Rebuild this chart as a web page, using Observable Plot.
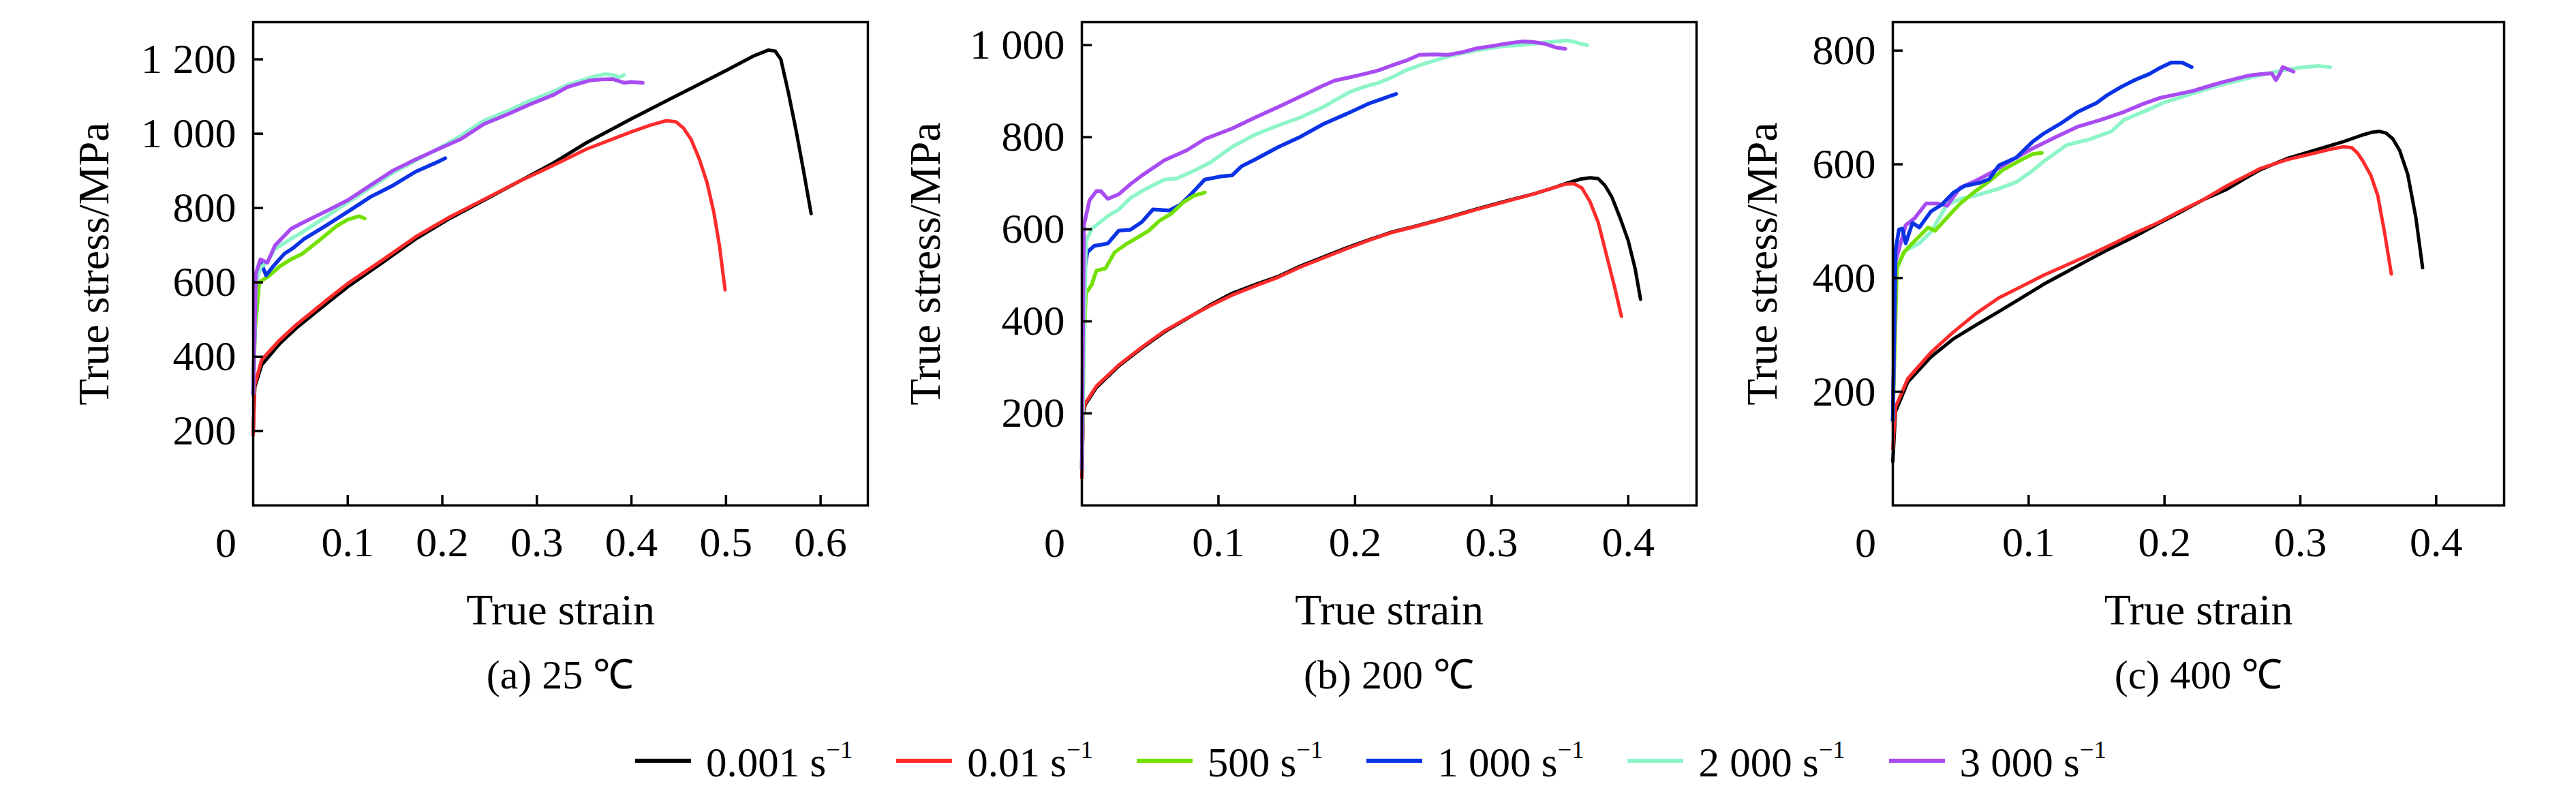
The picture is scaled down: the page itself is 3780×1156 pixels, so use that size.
<!DOCTYPE html>
<html><head><meta charset="utf-8">
<script src="https://cdn.jsdelivr.net/npm/d3@7"></script>
<script src="https://cdn.jsdelivr.net/npm/@observablehq/plot@0.6"></script>
<style>
body{margin:0;background:#fff;}
#wrap{position:relative;width:3780px;height:1156px;background:#fff;font-family:"Liberation Serif","Times New Roman",serif;}
.panel{position:absolute;top:0;}
.cap{position:absolute;font-size:60px;line-height:1;text-align:center;white-space:nowrap;transform:translateX(-50%);}
#legend{position:absolute;left:932px;top:1082px;display:flex;align-items:center;font-size:61px;line-height:1;white-space:nowrap;}
.it{display:flex;align-items:center;margin-right:64px;}
.sw{width:82px;height:6px;margin-right:22px;}
sup{font-size:0.6em;vertical-align:0.75em;}
</style></head>
<body><div id="wrap"></div>
<script>
const keys = ["0.001", "0.01", "500", "1 000", "2 000", "3 000"];
const colors = ["#000000", "#ff2b2b", "#73e000", "#0a33e6", "#8ef5c8", "#a84cf2"];

// ---- (a) 25 ℃ : [true strain, true stress MPa]
const a_0001 = [[0,190],[0.0017,318],[0.009,378],[0.028,435],[0.046,478],[0.064,515],[0.082,552],[0.1,588],[0.136,652],[0.172,717],[0.208,772],[0.244,821],[0.28,870],[0.316,919],[0.352,975],[0.4,1040],[0.45,1105],[0.5,1170],[0.53,1210],[0.545,1225],[0.552,1222],[0.558,1200],[0.566,1110],[0.574,1010],[0.582,900],[0.59,785]];
const a_001 = [[0,190],[0.0017,325],[0.009,392],[0.028,445],[0.046,487],[0.064,524],[0.082,561],[0.1,597],[0.136,659],[0.172,723],[0.208,776],[0.244,823],[0.28,870],[0.316,913],[0.352,958],[0.4,1005],[0.42,1023],[0.437,1035],[0.447,1032],[0.455,1015],[0.463,985],[0.472,930],[0.48,868],[0.487,790],[0.493,700],[0.499,580]];
const a_500 = [[0,300],[0.002,472],[0.0065,601],[0.016,616],[0.028,643],[0.04,662],[0.052,677],[0.064,701],[0.076,726],[0.088,751],[0.1,769],[0.112,778],[0.118,772]];
const a_1000 = [[0,300],[0.003,607],[0.0077,656],[0.0137,619],[0.021,643],[0.033,677],[0.042,692],[0.054,717],[0.076,751],[0.1,790],[0.124,830],[0.148,861],[0.172,898],[0.196,925],[0.203,934]];
const a_2000 = [[0,300],[0.003,600],[0.0077,640],[0.015,655],[0.023,690],[0.04,717],[0.052,735],[0.076,775],[0.1,815],[0.124,855],[0.148,895],[0.172,928],[0.196,960],[0.22,995],[0.244,1035],[0.268,1060],[0.292,1088],[0.317,1113],[0.332,1131],[0.347,1143],[0.362,1155],[0.372,1160],[0.38,1158],[0.387,1152],[0.392,1158]];
const a_3000 = [[0,300],[0.003,625],[0.0077,662],[0.015,653],[0.023,699],[0.04,744],[0.052,760],[0.076,790],[0.1,821],[0.124,861],[0.148,901],[0.172,931],[0.196,959],[0.22,986],[0.244,1026],[0.268,1051],[0.292,1078],[0.318,1105],[0.332,1125],[0.345,1135],[0.356,1143],[0.368,1146],[0.38,1147],[0.392,1137],[0.4,1139],[0.412,1137]];

// ---- (b) 200 ℃
const b_0001 = [[0,60],[0.001,200],[0.0025,219],[0.0106,256],[0.027,303],[0.044,342],[0.0605,377],[0.077,406],[0.094,436],[0.11,461],[0.127,480],[0.144,498],[0.16,520],[0.177,540],[0.194,560],[0.21,577],[0.227,594],[0.243,606],[0.268,626],[0.289,644],[0.31,661],[0.331,677],[0.345,690],[0.356,701],[0.365,709],[0.372,712],[0.378,710],[0.383,695],[0.388,670],[0.394,625],[0.4,575],[0.405,515],[0.409,448]];
const b_001 = [[0,60],[0.001,205],[0.0025,222],[0.0106,259],[0.027,305],[0.044,344],[0.0605,379],[0.077,407],[0.094,434],[0.11,457],[0.127,477],[0.144,496],[0.16,518],[0.177,538],[0.194,558],[0.21,576],[0.227,593],[0.243,605],[0.268,625],[0.289,643],[0.31,660],[0.331,677],[0.345,690],[0.354,698],[0.36,699],[0.366,690],[0.372,660],[0.378,615],[0.384,545],[0.39,475],[0.395,411]];
const b_500 = [[0,80],[0.0015,357],[0.003,461],[0.0073,480],[0.0106,510],[0.0173,515],[0.024,550],[0.032,567],[0.0406,582],[0.049,597],[0.057,619],[0.0655,634],[0.074,658],[0.082,673],[0.09,680]];
const b_1000 = [[0,80],[0.0015,500],[0.004,550],[0.009,564],[0.019,569],[0.027,597],[0.0356,599],[0.044,616],[0.052,643],[0.064,641],[0.072,653],[0.0805,678],[0.09,708],[0.102,715],[0.11,717],[0.117,737],[0.127,752],[0.144,779],[0.16,801],[0.177,829],[0.194,851],[0.21,873],[0.23,894]];
const b_2000 = [[0,80],[0.003,574],[0.0073,601],[0.019,629],[0.027,643],[0.0356,668],[0.047,688],[0.0605,708],[0.069,710],[0.082,727],[0.094,745],[0.11,779],[0.127,806],[0.144,826],[0.16,843],[0.177,866],[0.185,880],[0.196,898],[0.206,909],[0.217,918],[0.227,930],[0.237,945],[0.247,956],[0.258,966],[0.268,975],[0.279,983],[0.289,989],[0.3,994],[0.31,998],[0.321,1000],[0.331,1003],[0.34,1006],[0.347,1008],[0.355,1010],[0.36,1008],[0.365,1003],[0.37,1000]];
const b_3000 = [[0,80],[0.0015,609],[0.0056,663],[0.0106,683],[0.0139,683],[0.019,666],[0.027,676],[0.0356,698],[0.044,717],[0.0605,750],[0.077,772],[0.09,796],[0.11,819],[0.127,843],[0.144,866],[0.164,894],[0.175,910],[0.185,923],[0.196,930],[0.206,937],[0.217,945],[0.227,956],[0.237,966],[0.247,979],[0.258,980],[0.268,979],[0.279,985],[0.289,993],[0.3,998],[0.31,1003],[0.322,1008],[0.33,1007],[0.339,1003],[0.347,995],[0.354,992]];

// ---- (c) 400 ℃
const c_0001 = [[0,77],[0.002,165],[0.011,217],[0.028,261],[0.0446,293],[0.061,317],[0.078,341],[0.0946,365],[0.111,389],[0.128,411],[0.145,433],[0.161,453],[0.178,473],[0.195,495],[0.211,515],[0.228,537],[0.245,555],[0.27,590],[0.29,610],[0.311,625],[0.332,640],[0.345,651],[0.352,656],[0.358,658],[0.363,655],[0.368,645],[0.373,625],[0.379,583],[0.385,507],[0.39,418]];
const c_001 = [[0,100],[0.002,173],[0.011,223],[0.028,269],[0.0446,305],[0.061,337],[0.078,365],[0.0946,385],[0.111,405],[0.128,423],[0.145,441],[0.161,459],[0.178,479],[0.195,497],[0.211,517],[0.228,537],[0.245,561],[0.27,592],[0.29,608],[0.311,620],[0.325,628],[0.332,631],[0.338,629],[0.342,620],[0.346,606],[0.352,580],[0.357,545],[0.362,480],[0.367,407]];
const c_500 = [[0,150],[0.003,417],[0.008,445],[0.016,465],[0.026,489],[0.031,483],[0.041,509],[0.0496,531],[0.061,553],[0.073,574],[0.081,590],[0.0946,608],[0.103,618],[0.1097,620]];
const c_1000 = [[0,150],[0.002,449],[0.0045,485],[0.007,487],[0.0095,461],[0.0145,497],[0.0195,489],[0.028,517],[0.036,529],[0.0446,550],[0.053,562],[0.0646,568],[0.071,574],[0.078,598],[0.091,612],[0.103,640],[0.111,654],[0.125,674],[0.136,692],[0.15,708],[0.158,722],[0.168,736],[0.178,748],[0.189,759],[0.197,770],[0.205,779],[0.213,779],[0.22,771]];
const c_2000 = [[0,150],[0.002,414],[0.0095,449],[0.0195,461],[0.028,481],[0.04,529],[0.0496,539],[0.061,545],[0.078,557],[0.091,569],[0.103,589],[0.111,605],[0.128,634],[0.145,644],[0.161,658],[0.17,678],[0.186,694],[0.201,710],[0.211,717],[0.221,725],[0.232,733],[0.242,740],[0.252,746],[0.262,752],[0.272,758],[0.283,763],[0.293,768],[0.303,771],[0.313,773],[0.322,771]];
const c_3000 = [[0,150],[0.002,429],[0.0095,493],[0.016,505],[0.0245,531],[0.033,531],[0.04,527],[0.0496,559],[0.061,571],[0.073,586],[0.086,605],[0.103,628],[0.12,648],[0.136,666],[0.153,678],[0.17,692],[0.184,706],[0.197,717],[0.209,723],[0.221,729],[0.232,737],[0.242,744],[0.252,750],[0.262,756],[0.272,759],[0.279,760],[0.282,748],[0.285,760],[0.287,771],[0.291,767],[0.295,763]];

// tick values
const xTicksA = [0.1, 0.2, 0.3, 0.4, 0.5, 0.6];
const xTicksBC = [0.1, 0.2, 0.3, 0.4];
const yTicksA = [200, 400, 600, 800, 1000, 1200];
const yTicksB = [200, 400, 600, 800, 1000];
const yTicksC = [200, 400, 600, 800];
const captions = ["(a) 25 ℃", "(b) 200 ℃", "(c) 400 ℃"];

const FONT = '"Liberation Serif","Times New Roman",serif';
const fmtY = d3.formatLocale({decimal: ".", thousands: " ", grouping: [3], currency: ["", ""]}).format(",d");

function panel({series, order, xmax, ymax, xticks, yticks, width, mLeft, mRight, yLabelDx}) {
  const H = 960, mTop = 32, mBottom = 219;
  const plotW = width - mLeft - mRight, plotH = H - mTop - mBottom;
  const tick = 15;
  return Plot.plot({
    width, height: H, marginLeft: mLeft, marginRight: mRight, marginTop: mTop, marginBottom: mBottom,
    x: {domain: [0, xmax]},
    y: {domain: [0, ymax]},
    style: {fontFamily: FONT, fontSize: "62px", background: "transparent", color: "#000"},
    marks: [
      ...order.map(i => Plot.line(series[i], {x: d => d[0], y: d => d[1], stroke: colors[i], strokeWidth: i < 2 ? 5 : 5.5, strokeLinejoin: "round", strokeLinecap: "round"})),
      Plot.ruleX(xticks, {x: d => d, y1: 0, y2: ymax * tick / plotH, stroke: "#000", strokeWidth: 3.5}),
      Plot.ruleY(yticks, {y: d => d, x1: 0, x2: xmax * tick / plotW, stroke: "#000", strokeWidth: 3.5}),
      Plot.frame({stroke: "#000", strokeWidth: 3.5}),
      Plot.axisX({ticks: xticks, tickSize: 0, tickPadding: 30, tickFormat: d3.format(".1f"), label: null, fontSize: 62}),
      Plot.axisY({ticks: yticks, tickSize: 0, tickPadding: 25, tickFormat: fmtY, label: null, fontSize: 62}),
      Plot.text(["0"], {x: 0, y: 0, text: d => d, dx: -40, dy: 56, fontSize: 62, lineAnchor: "middle"}),
      Plot.text(["True strain"], {frameAnchor: "bottom", text: d => d, dy: 174, lineAnchor: "bottom", textAnchor: "middle", fontSize: 64}),
      Plot.text(["True stress/MPa"], {frameAnchor: "left", text: d => d, dx: yLabelDx, rotate: -90, lineAnchor: "middle", textAnchor: "middle", fontSize: 64})
    ]
  });
}

const wrap = document.getElementById("wrap");
const specs = [
  {left: 0, series: [a_0001, a_001, a_500, a_1000, a_2000, a_3000], order: [0,1,2,3,4,5], xmax: 0.65, ymax: 1300, xticks: xTicksA, yticks: yTicksA, width: 1300, mLeft: 371, mRight: 27, yLabelDx: -233, cx: 822},
  {left: 1300, series: [b_0001, b_001, b_500, b_1000, b_2000, b_3000], order: [0,1,3,2,4,5], xmax: 0.45, ymax: 1050, xticks: xTicksBC, yticks: yTicksB, width: 1250, mLeft: 287, mRight: 61, yLabelDx: -229, cx: 2038},
  {left: 2550, series: [c_0001, c_001, c_500, c_1000, c_2000, c_3000], order: [0,1,4,2,5,3], xmax: 0.45, ymax: 850, xticks: xTicksBC, yticks: yTicksC, width: 1230, mLeft: 227, mRight: 106, yLabelDx: -191, cx: 3226}
];
specs.forEach((s, i) => {
  const svg = panel(s);
  const div = document.createElement("div");
  div.className = "panel";
  div.style.left = s.left + "px";
  div.appendChild(svg);
  wrap.appendChild(div);
  const cap = document.createElement("div");
  cap.className = "cap";
  cap.style.left = s.cx + "px";
  cap.style.top = "960px";
  cap.textContent = captions[i];
  wrap.appendChild(cap);
});

const leg = document.createElement("div");
leg.id = "legend";
keys.forEach((k, i) => {
  const it = document.createElement("div");
  it.className = "it";
  const sw = document.createElement("div");
  sw.className = "sw";
  sw.style.background = colors[i];
  const t = document.createElement("span");
  t.innerHTML = k + " s<sup>\u22121</sup>";
  it.appendChild(sw); it.appendChild(t);
  leg.appendChild(it);
});
wrap.appendChild(leg);
</script></body></html>
